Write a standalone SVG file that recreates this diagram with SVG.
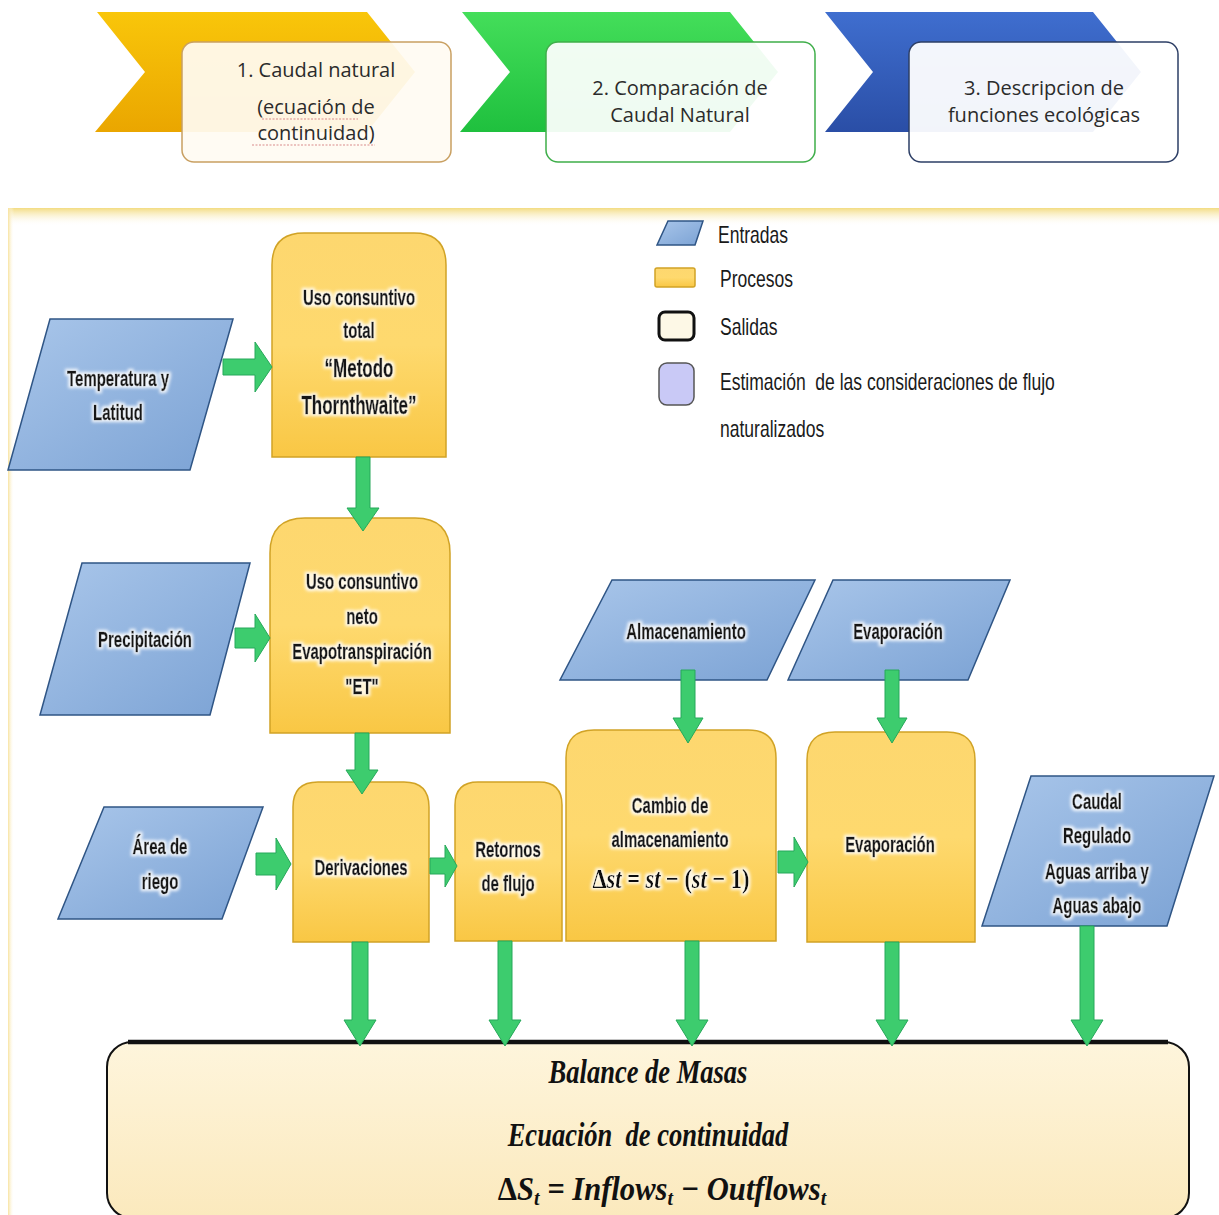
<svg xmlns="http://www.w3.org/2000/svg" width="1219" height="1215" viewBox="0 0 1219 1215">
  <defs>
    <style>
      .step { font-family: "Open Sans", "Liberation Sans", sans-serif; font-size: 20px; fill: #2b2b2b; text-anchor: middle; }
      .nt { font-family: "Liberation Sans", "DejaVu Sans", sans-serif; font-weight: bold; font-size: 22px; fill: #151515; stroke: #151515; stroke-width: 0.5; text-anchor: middle; }
      .lg { font-family: "Liberation Sans", "DejaVu Sans", sans-serif; font-size: 24px; fill: #1a1a1a; }
      .bal { font-family: "Liberation Serif", "DejaVu Serif", serif; font-weight: bold; font-style: italic; font-size: 34px; fill: #111; text-anchor: middle; }
      .math { font-family: "Liberation Serif", "DejaVu Serif", serif; font-weight: bold; font-size: 28px; fill: #111; text-anchor: middle; }
      .inp { fill: url(#gInp); stroke: #2f5585; stroke-width: 1.5; }
      .proc { fill: url(#gProc); stroke: #d1a326; stroke-width: 1.5; }
      .arr { fill: #3dcc6e; stroke: #27a85a; stroke-width: 1; }
    </style>
    <linearGradient id="gInp" x1="0" y1="0" x2="1" y2="1">
      <stop offset="0" stop-color="#a9c6ea"/>
      <stop offset="1" stop-color="#7ba2d4"/>
    </linearGradient>
    <linearGradient id="gProc" x1="0" y1="0" x2="0" y2="1">
      <stop offset="0" stop-color="#fdd76f"/>
      <stop offset="0.5" stop-color="#fed96e"/>
      <stop offset="1" stop-color="#f9c744"/>
    </linearGradient>
    <linearGradient id="gYel" x1="0" y1="0" x2="0" y2="1">
      <stop offset="0" stop-color="#f9c60a"/>
      <stop offset="1" stop-color="#eaa600"/>
    </linearGradient>
    <linearGradient id="gGrn" x1="0" y1="0" x2="0" y2="1">
      <stop offset="0" stop-color="#44de5a"/>
      <stop offset="1" stop-color="#1fc03e"/>
    </linearGradient>
    <linearGradient id="gBlu" x1="0" y1="0" x2="0" y2="1">
      <stop offset="0" stop-color="#3f6ecf"/>
      <stop offset="1" stop-color="#2a4ea6"/>
    </linearGradient>
    <linearGradient id="gTopBand" x1="0" y1="0" x2="0" y2="1">
      <stop offset="0" stop-color="#f3dc82"/>
      <stop offset="1" stop-color="#ffffff" stop-opacity="0"/>
    </linearGradient>
    <linearGradient id="gLeftBand" x1="0" y1="0" x2="1" y2="0">
      <stop offset="0" stop-color="#f8e3a0"/>
      <stop offset="1" stop-color="#ffffff" stop-opacity="0"/>
    </linearGradient>
    <linearGradient id="gBal" x1="0" y1="0" x2="0" y2="1">
      <stop offset="0" stop-color="#fef5dc"/>
      <stop offset="1" stop-color="#fbe9bd"/>
    </linearGradient>
    <filter id="glow" x="-10%" y="-40%" width="120%" height="180%">
      <feMorphology in="SourceAlpha" operator="dilate" radius="1.5" result="d"/>
      <feGaussianBlur in="d" stdDeviation="1.6" result="b"/>
      <feFlood flood-color="#ffffff" flood-opacity="0.85"/>
      <feComposite in2="b" operator="in" result="g"/>
      <feMerge><feMergeNode in="g"/><feMergeNode in="SourceGraphic"/></feMerge>
    </filter>
  </defs>

  <rect width="1219" height="1215" fill="#ffffff"/>

  <!-- step bar -->
  <g id="step1">
    <polygon points="97,12 367,12 415,72 367,132 95,132 145,72" fill="url(#gYel)"/>
    <rect x="182" y="42" width="269" height="120" rx="12" fill="#fffbf2" fill-opacity="0.93" stroke="#c9a062" stroke-width="1.5"/>
    <text class="step" x="316" y="77">1. Caudal natural</text>
    <text class="step" x="316" y="114">(ecuación de</text>
    <text class="step" x="316" y="140">continuidad)</text>
    <path d="M262,119 H358 M252,145 H375" stroke="#d98b8b" stroke-width="1" stroke-dasharray="2,1.5" fill="none"/>
  </g>
  <g id="step2">
    <polygon points="462,12 730,12 778,72 730,132 460,132 510,72" fill="url(#gGrn)"/>
    <rect x="546" y="42" width="269" height="120" rx="12" fill="#ffffff" fill-opacity="0.93" stroke="#3fae4a" stroke-width="1.5"/>
    <text class="step" x="680" y="95">2. Comparación de</text>
    <text class="step" x="680" y="122">Caudal Natural</text>
  </g>
  <g id="step3">
    <polygon points="825,12 1093,12 1141,72 1093,132 825,132 873,72" fill="url(#gBlu)"/>
    <rect x="909" y="42" width="269" height="120" rx="12" fill="#ffffff" fill-opacity="0.94" stroke="#2d3f66" stroke-width="1.5"/>
    <text class="step" x="1044" y="95">3. Descripcion de</text>
    <text class="step" x="1044" y="122">funciones ecológicas</text>
  </g>

  <!-- lower panel frame -->
  <g id="panel">
    <rect x="8" y="208" width="1211" height="1007" fill="#ffffff"/>
    <rect x="8" y="208" width="1211" height="18" fill="url(#gTopBand)"/>
    <rect x="8" y="208" width="6" height="1007" fill="url(#gLeftBand)"/>
  </g>

  <!-- legend -->
  <g id="legend">
    <polygon points="668,221 703,221 695,245 657,245" class="inp"/>
    <rect x="655" y="268" width="40" height="19" rx="2" class="proc"/>
    <rect x="659" y="312" width="35" height="28" rx="6" fill="#fdf8e6" stroke="#111" stroke-width="3"/>
    <rect x="659" y="363" width="35" height="42" rx="8" fill="#c9c9f6" stroke="#555" stroke-width="1.5"/>
    <text class="lg" transform="translate(718,243) scale(0.73,1)">Entradas</text>
    <text class="lg" transform="translate(720,287) scale(0.73,1)">Procesos</text>
    <text class="lg" transform="translate(720,335) scale(0.73,1)">Salidas</text>
    <text class="lg" transform="translate(720,390) scale(0.73,1)" xml:space="preserve">Estimación  de las consideraciones de flujo</text>
    <text class="lg" transform="translate(720,437) scale(0.73,1)">naturalizados</text>
  </g>

  <!-- inputs -->
  <g id="temperatura">
    <polygon points="50,319 233,319 190,470 8,470" class="inp"/>
    <g filter="url(#glow)">
      <text class="nt" transform="translate(118,386) scale(0.68,1)">Temperatura y</text>
      <text class="nt" transform="translate(118,420) scale(0.68,1)">Latitud</text>
    </g>
  </g>
  <g id="precipitacion">
    <polygon points="82,563 250,563 210,715 40,715" class="inp"/>
    <g filter="url(#glow)">
      <text class="nt" transform="translate(145,647) scale(0.68,1)">Precipitación</text>
    </g>
  </g>
  <g id="area-riego">
    <polygon points="104,807 263,807 222,919 58,919" class="inp"/>
    <g filter="url(#glow)">
      <text class="nt" transform="translate(160,854) scale(0.68,1)">Área de</text>
      <text class="nt" transform="translate(160,889) scale(0.68,1)">riego</text>
    </g>
  </g>
  <g id="almacenamiento">
    <polygon points="612,580 815,580 767,680 560,680" class="inp"/>
    <g filter="url(#glow)">
      <text class="nt" transform="translate(686,639) scale(0.68,1)">Almacenamiento</text>
    </g>
  </g>
  <g id="evaporacion-in">
    <polygon points="833,580 1010,580 968,680 788,680" class="inp"/>
    <g filter="url(#glow)">
      <text class="nt" transform="translate(898,639) scale(0.68,1)">Evaporación</text>
    </g>
  </g>
  <g id="caudal-regulado">
    <polygon points="1031,776 1214,776 1167,926 982,926" class="inp"/>
    <g filter="url(#glow)">
      <text class="nt" transform="translate(1097,809) scale(0.68,1)">Caudal</text>
      <text class="nt" transform="translate(1097,843) scale(0.68,1)">Regulado</text>
      <text class="nt" transform="translate(1097,879) scale(0.68,1)">Aguas arriba y</text>
      <text class="nt" transform="translate(1097,913) scale(0.68,1)">Aguas abajo</text>
    </g>
  </g>

  <!-- processes -->
  <g id="uso-total">
    <path d="M272,457 V265 Q272,233 304,233 H414 Q446,233 446,265 V457 Z" class="proc"/>
    <g filter="url(#glow)">
      <text class="nt" transform="translate(359,305) scale(0.68,1)">Uso consuntivo</text>
      <text class="nt" transform="translate(359,338) scale(0.68,1)">total</text>
      <text class="nt" style="font-size:25px" transform="translate(359,377) scale(0.68,1)">“Metodo</text>
      <text class="nt" style="font-size:25px" transform="translate(359,414) scale(0.68,1)">Thornthwaite”</text>
    </g>
  </g>
  <g id="uso-neto">
    <path d="M270,733 V553 Q270,518 305,518 H415 Q450,518 450,553 V733 Z" class="proc"/>
    <g filter="url(#glow)">
      <text class="nt" transform="translate(362,589) scale(0.68,1)">Uso consuntivo</text>
      <text class="nt" transform="translate(362,624) scale(0.68,1)">neto</text>
      <text class="nt" transform="translate(362,659) scale(0.68,1)">Evapotranspiración</text>
      <text class="nt" transform="translate(362,694) scale(0.68,1)">"ET"</text>
    </g>
  </g>
  <g id="derivaciones">
    <path d="M293,942 V807 Q293,782 318,782 H404 Q429,782 429,807 V942 Z" class="proc"/>
    <g filter="url(#glow)">
      <text class="nt" transform="translate(361,875) scale(0.68,1)">Derivaciones</text>
    </g>
  </g>
  <g id="retornos">
    <path d="M455,941 V805 Q455,782 478,782 H539 Q562,782 562,805 V941 Z" class="proc"/>
    <g filter="url(#glow)">
      <text class="nt" transform="translate(508,857) scale(0.68,1)">Retornos</text>
      <text class="nt" transform="translate(508,891) scale(0.68,1)">de flujo</text>
    </g>
  </g>
  <g id="cambio">
    <path d="M566,941 V758 Q566,730 594,730 H748 Q776,730 776,758 V941 Z" class="proc"/>
    <g filter="url(#glow)">
      <text class="nt" transform="translate(670,813) scale(0.68,1)">Cambio de</text>
      <text class="nt" transform="translate(670,847) scale(0.68,1)">almacenamiento</text>
      <text class="math" transform="translate(671,888) scale(0.8,1)">Δ<tspan font-style="italic">st</tspan> = <tspan font-style="italic">st</tspan> − (<tspan font-style="italic">st</tspan> − 1)</text>
    </g>
  </g>
  <g id="evaporacion">
    <path d="M807,942 V760 Q807,732 835,732 H947 Q975,732 975,760 V942 Z" class="proc"/>
    <g filter="url(#glow)">
      <text class="nt" transform="translate(890,852) scale(0.68,1)">Evaporación</text>
    </g>
  </g>

  <!-- output -->
  <g id="balance">
    <rect x="107" y="1042" width="1082" height="176" rx="25" fill="url(#gBal)" stroke="#111" stroke-width="2"/>
    <path d="M128,1042 H1168" stroke="#111" stroke-width="4.5" fill="none"/>
    <text class="bal" transform="translate(648,1083) scale(0.78,1)">Balance de Masas</text>
    <text class="bal" transform="translate(648,1146) scale(0.78,1)" xml:space="preserve">Ecuación  de continuidad</text>
    <text class="bal" transform="translate(662,1200) scale(0.9,1)"><tspan font-style="normal">Δ</tspan>S<tspan font-size="22" dy="5">t</tspan><tspan dy="-5"> = Inflows</tspan><tspan font-size="22" dy="5">t</tspan><tspan dy="-5"> − Outflows</tspan><tspan font-size="22" dy="5">t</tspan></text>
  </g>

  <!-- connectors -->
  <g id="connectors">
    <polygon class="arr" points="223,359 255,359 255,342 272,367 255,392 255,375 223,375"/>
    <polygon class="arr" points="235,628 255,628 255,614 270,638 255,662 255,648 235,648"/>
    <polygon class="arr" points="256,853 276,853 276,838 291,864 276,890 276,875 256,875"/>
    <polygon class="arr" points="430,858 445,858 445,845 457,866 445,887 445,874 430,874"/>
    <polygon class="arr" points="778,851 794,851 794,837 808,862 794,887 794,873 778,873"/>

    <polygon class="arr" points="356,457 370,457 370,508 379,508 363,531 347,508 356,508"/>
    <polygon class="arr" points="355,733 369,733 369,770 378,770 362,794 346,770 355,770"/>
    <polygon class="arr" points="681,670 695,670 695,718 703,718 688,743 673,718 681,718"/>
    <polygon class="arr" points="885,670 899,670 899,718 907,718 892,743 877,718 885,718"/>

    <polygon class="arr" points="352,942 368,942 368,1020 376,1020 360,1046 344,1020 352,1020"/>
    <polygon class="arr" points="498,941 512,941 512,1020 521,1020 505,1046 489,1020 498,1020"/>
    <polygon class="arr" points="685,941 699,941 699,1020 708,1020 692,1046 676,1020 685,1020"/>
    <polygon class="arr" points="885,942 899,942 899,1020 908,1020 892,1046 876,1020 885,1020"/>
    <polygon class="arr" points="1080,926 1094,926 1094,1020 1103,1020 1087,1046 1071,1020 1080,1020"/>
  </g>
</svg>
